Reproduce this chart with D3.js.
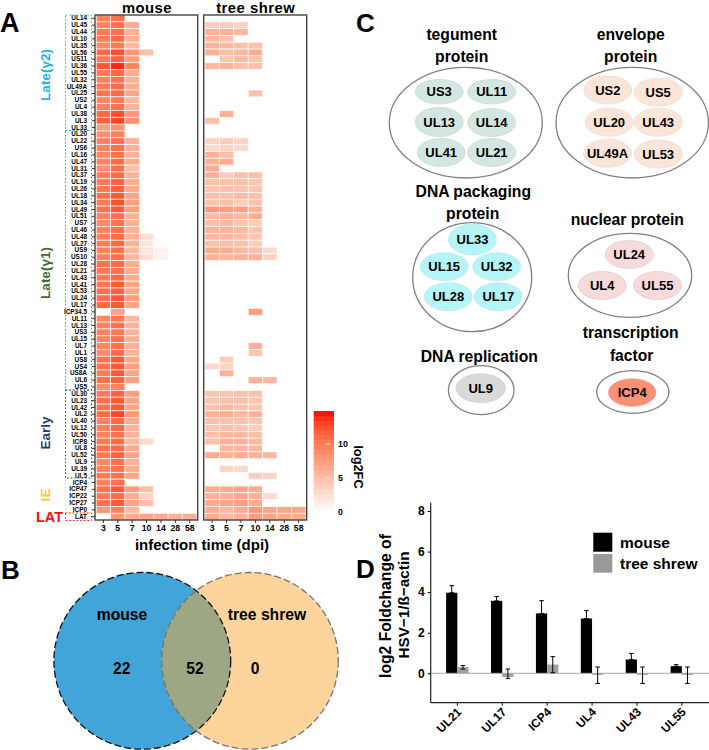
<!DOCTYPE html>
<html>
<head>
<meta charset="utf-8">
<script src="https://cdn.jsdelivr.net/npm/d3@7"></script>
<style>
html, body { margin: 0; padding: 0; background: #fff; }
text { font-family: "Liberation Sans", Arial, sans-serif; font-weight: bold; fill: #000; }
</style>
</head>
<body>
<div id="chart"></div>
<script>
// panel A
var days = ["3", "5", "7", "10", "14", "28", "58"];
var genes = ["UL14", "UL45", "UL44", "UL10", "UL35", "UL56", "US11", "UL36", "UL55", "UL32",
    "UL49A", "UL25", "US2", "UL4", "UL38", "UL3", "UL33", "UL20", "UL22", "US6",
    "UL16", "UL47", "UL31", "UL37", "UL19", "UL26", "UL18", "UL34", "UL49", "UL51",
    "US7", "UL46", "UL48", "UL27", "US9", "US10", "UL28", "UL21", "UL43", "UL41",
    "UL53", "UL24", "UL17", "ICP34.5", "UL11", "UL13", "US3", "UL15", "UL7", "UL1",
    "US8", "US4", "US8A", "UL6", "US5", "UL30", "UL23", "UL42", "UL2", "UL40",
    "UL12", "UL50", "ICP8", "UL8", "UL52", "UL9", "UL39", "UL5", "ICP4", "ICP47",
    "ICP22", "ICP27", "ICP0", "LAT"];

// one row per gene, one entry per day, null or missing = not detected
var mouseFC = [[9.5, 10.5], [9.5, 10.5, 6.5], [10, 10.5, 6], [10, 11, 6], [9, 10, 5.5],
    [11, 12.5, 8, 5], [10, 11.5, 7.5], [12, 14, 9.5], [10, 11, 6.5], [9.5, 10.5, 6],
    [10, 11, 6.5], [10.5, 11, 7], [9, 10, 5.5], [9.5, 10.5, 6], [11, 12.5, 8],
    [11.5, 13, 8.5], [7.5, 8.5], [8.5, 9.5], [9.5, 10.5, 6], [9.5, 10.5, 6],
    [9, 10.5, 6], [9.5, 11, 6.5], [8.5, 10.5, 5], [10, 11, 6], [10, 11.5, 6.5],
    [10, 11.5, 6.5], [10.5, 12, 7], [10, 12.5, 7.5], [10.5, 12, 7.5], [9.5, 10.5, 6],
    [9, 10.5, 6], [9.5, 10.5, 6], [9.5, 11, 6, 2.5], [10, 11, 6, 2], [9.5, 10.5, 5.5, 2, 1],
    [9.5, 10.5, 5.5, 2.5, 1], [10.5, 11, 6.5], [10, 10.5, 6.5], [10, 11, 6.5], [10, 12, 7],
    [10.5, 11.5, 7], [10.5, 12, 7.5], [11, 12, 7], [null, 7], [9, 10, 5.5],
    [9.5, 10.5, 6], [9.5, 10, 6], [9.5, 10.5, 6], [9, 10.5, 6], [9, 11, 6],
    [10.5, 12, 7], [10.5, 12, 7.5], [10, 12, 7], [10.5, 11.5, 7.5], [8.5, 9.5],
    [10, 11.5, 7.5], [10.5, 12, 7], [10.5, 12, 7], [11, 13, 8], [9.5, 11, 6.5],
    [9.5, 11, 6], [9.5, 10.5, 6], [10, 11, 5.5, 3], [10.5, 11, 6.5], [10, 11.5, 7],
    [9, 10.5, 6], [9.5, 10.5, 6.5], [10, 10.5, 7], [9.5, 10.5], [10.5, 12, 7.5, 5],
    [10, 11, 6.5, 3.5], [10.5, 12, 7, 5], [8, 9.5, 5.5], [null, 8, 6.5, 7, 6.5, 6, 6.5]];

var shrewFC = [[], [4, 4, 3.5], [6, 6, 5.5], [5.5, 4.5], [6, 5.5, 5, 5],
    [6, 5, 5.5, 6.5], [null, 4.5, 5.5, 5], [5.5, 6, 5, 5], [], [],
    [], [null, null, null, 5], [], [], [null, 6],
    [5], [], [], [3.5, 4, 3.5], [3, 3.5, 3],
    [6, 5], [6, 6.5], [6.5], [6, 4, 5, 5], [5, 5, 5, 4.5],
    [4.5, 5, 4.5, 4.5], [5, 5, 5.5, 5], [4.5, 5, 4, 5], [8, 7.5, 7.5, 6], [5.5, 6, 5.5, 6.5],
    [5, 5.5, 4.5, 4], [6, 6, 5.5, 4.5], [5.5, 5.5, 5, 4.5], [5, 5, 5, 4], [6.5, 6.5, 5.5, 5, 3],
    [6, 5.5, 6, 6, 3.5], [], [], [], [],
    [], [], [], [null, null, null, 7.5], [],
    [], [], [], [null, null, null, 6], [null, null, null, 4.5],
    [null, 4], [3, 3.5], [null, 6], [null, null, null, 6, 5.5], [],
    [4.5, 4.5, 5, 5], [4.5, 5, 5, 4.5], [5, 5.5, 5, 4.5], [6, 6.5, 5.5, 6], [5, 5, 5, 4.5],
    [4.5, 5, 4.5, 4], [5, 5.5, 5.5, 5], [5, 6, 6, 5.5], [null, 5.5, 5.5, 5.5], [6.5, 6, 6.5, 6, 5.5],
    [], [null, 3.5, 3], [null, null, null, 4, 3.5], [], [6.5, 6.5, 7, 6.5],
    [6, 6, 7, 6, 3], [6.5, 7, 7.5, 6.5], [6.5, 5.5, 6.5, 8, 7, 7, 7], [6.5, 5.5, 6, 7.5, 7, 6.5, 6.5]];

var legendTicks = [0, 5, 10];

// panel B
var vennCounts = ["22", "52", "0"];

// panel C
var tegument = ["US3", "UL11", "UL13", "UL14", "UL41", "UL21"];
var envelope = ["US2", "US5", "UL20", "UL43", "UL49A", "UL53"];
var packaging = ["UL33", "UL15", "UL32", "UL28", "UL17"];
var nuclear = ["UL24", "UL4", "UL55"];

// panel D
var qpcrGenes = ["UL21", "UL17", "ICP4", "UL4", "UL43", "UL55"];
var qpcrSeries = ["mouse", "tree shrew"];
var mouseMean = [3.97, 3.57, 2.95, 2.7, 0.68, 0.35];
var mouseHigh = [4.32, 3.78, 3.58, 3.09, 0.98, 0.43];
var shrewMean = [0.3, -0.18, 0.43, -0.08, -0.08, -0.08];
var shrewLow = [0.21, -0.25, 0.03, -0.5, -0.5, -0.5];
var shrewHigh = [0.38, 0.21, 0.82, 0.31, 0.31, 0.31];

var svg = d3.select("#chart").append("svg")
    .attr("width", 709)
    .attr("height", 750)
    .style("display", "block");

function label(txt, x, y, size, anchor, color) {
    return svg.append("text")
        .attr("x", x)
        .attr("y", y)
        .attr("text-anchor", anchor || "middle")
        .style("font-size", size + "px")
        .style("fill", color || "#000")
        .text(txt);
}

function sideLabel(txt, x, y, size, color, angle) {
    return svg.append("text")
        .attr("transform", "translate(" + x + "," + y + ") rotate(" + angle + ")")
        .attr("text-anchor", "middle")
        .style("font-size", size + "px")
        .style("fill", color || "#000")
        .text(txt);
}

label("A", 0, 32, 27, "start");
label("B", 1, 579, 26, "start");
label("C", 356, 32, 26, "start");
label("D", 356, 578, 26, "start");

/* ---------- A: heatmaps ---------- */
var y = d3.scaleBand().domain(genes).range([14.9, 520.1]);
var fcColor = d3.scaleLinear().domain([0, 14.7]).range(["#ffffff", "#ff0000"]).interpolate(d3.interpolateLab);

function heatmap(values, left, right) {
    var x = d3.scaleBand().domain(days).range([left + 1.2, right - 0.8]);
    var g = svg.append("g");
    values.forEach(function (row, i) {
        row.forEach(function (v, j) {
            if (v === null) return;
            g.append("rect")
                .attr("x", x(days[j]))
                .attr("y", y(genes[i]))
                .attr("width", x.bandwidth())
                .attr("height", y.bandwidth())
                .attr("fill", fcColor(v))
                .attr("stroke", "#fff")
                .attr("stroke-width", 0.7);
        });
    });
    svg.append("rect")
        .attr("x", left)
        .attr("y", 15)
        .attr("width", right - left)
        .attr("height", 505)
        .attr("fill", "none")
        .attr("stroke", "#444")
        .attr("stroke-width", 1.4);
    var ax = svg.append("g")
        .attr("transform", "translate(0,520)")
        .call(d3.axisBottom(x).tickSize(3).tickPadding(2));
    ax.select(".domain").remove();
    ax.selectAll("line").attr("stroke", "#333");
    ax.selectAll("text").style("font-size", "8.7px");
}

heatmap(mouseFC, 95, 197.7);
heatmap(shrewFC, 203.7, 306.7);

var geneAxis = svg.append("g")
    .attr("transform", "translate(95,0)")
    .call(d3.axisLeft(y).tickSize(3).tickPadding(5));
geneAxis.select(".domain").remove();
geneAxis.selectAll("line").attr("stroke", "#333");
geneAxis.selectAll("text").style("font-size", "6.4px");

label("mouse", 147, 13.4, 14.8).style("letter-spacing", "0.5px");
label("tree shrew", 255.7, 13.4, 14.8).style("letter-spacing", "0.5px");
label("infection time (dpi)", 202, 550, 15);

// dotted boxes round the gene classes
function classBox(y0, y1, color) {
    svg.append("rect")
        .attr("x", 65.5)
        .attr("y", y0)
        .attr("width", 26)
        .attr("height", y1 - y0)
        .attr("fill", "none")
        .attr("stroke", color)
        .attr("stroke-width", 1)
        .attr("stroke-dasharray", "1.6,2");
}
classBox(15, 130.5, "#29b8e2");
classBox(130.5, 390, "#3aa083");
classBox(390, 478, "#3c3c8c");
classBox(478, 513, "#f3dc4c");
classBox(513, 520.5, "#f01010");

sideLabel("Late(γ2)", 50, 75, 13.5, "#19b3ee", -90);
sideLabel("Late(γ1)", 50, 273, 13.5, "#41693a", -90);
sideLabel("Early", 50, 433, 13.5, "#1d3a7c", -90);
sideLabel("IE", 50, 495, 13.5, "#fbc531", -90);
label("LAT", 49.5, 522, 14.5, "middle", "#f01010");

// colour bar
var legendY = d3.scaleLinear().domain([0, 5]).range([512, 478]);
var steps = d3.range(0.45, 14.7, 0.72);
svg.selectAll(".step").data(steps).enter().append("rect")
    .attr("class", "step")
    .attr("x", 313.7)
    .attr("width", 20.3)
    .attr("y", function (d) { return legendY(d + 0.72); })
    .attr("height", legendY(0) - legendY(0.72) + 0.3)
    .attr("fill", function (d) { return fcColor(d + 0.36); });
legendTicks.forEach(function (t) {
    if (t > 0) {
        svg.append("line")
            .attr("x1", 325.7).attr("x2", 330)
            .attr("y1", legendY(t)).attr("y2", legendY(t))
            .attr("stroke", "#fff").attr("stroke-opacity", 0.8);
    }
    label(t, 338, legendY(t) + 3.2, 8.8, "start");
});
sideLabel("log2FC", 354, 467, 12.8, "#000", 90);

/* ---------- B: venn ---------- */
var vennLeft = { x: 142.3, y: 660.8, r: 88.4 };
var vennRight = { x: 250, y: 660.8, r: 88.3 };

svg.append("clipPath").attr("id", "clip-left").append("circle")
    .attr("cx", vennLeft.x).attr("cy", vennLeft.y).attr("r", vennLeft.r);

svg.append("circle").attr("cx", vennLeft.x).attr("cy", vennLeft.y).attr("r", vennLeft.r).attr("fill", "#41a5d9");
svg.append("circle").attr("cx", vennRight.x).attr("cy", vennRight.y).attr("r", vennRight.r).attr("fill", "#fdd59c");
svg.append("circle").attr("cx", vennRight.x).attr("cy", vennRight.y).attr("r", vennRight.r)
    .attr("fill", "#9da783").attr("clip-path", "url(#clip-left)");
svg.append("circle").attr("cx", vennLeft.x).attr("cy", vennLeft.y).attr("r", vennLeft.r)
    .attr("fill", "none").attr("stroke", "#111").attr("stroke-width", 1.3).attr("stroke-dasharray", "7,3");
svg.append("circle").attr("cx", vennRight.x).attr("cy", vennRight.y).attr("r", vennRight.r)
    .attr("fill", "none").attr("stroke", "#737373").attr("stroke-width", 1.3).attr("stroke-dasharray", "7,3");

label("mouse", 122, 620, 15.7);
label("tree shrew", 267, 620, 15.7);
label(vennCounts[0], 121.7, 674, 15.6);
label(vennCounts[1], 195, 674, 15.6);
label(vennCounts[2], 255, 674, 15.6);

/* ---------- C: protein groups ---------- */
function outer(cx, cy, rx, ry) {
    svg.append("ellipse")
        .attr("cx", cx).attr("cy", cy).attr("rx", rx).attr("ry", ry)
        .attr("fill", "#fff").attr("stroke", "#808080").attr("stroke-width", 1.3);
}

function oval(txt, cx, cy, rx, ry, fill, stroke) {
    svg.append("ellipse")
        .attr("cx", cx).attr("cy", cy).attr("rx", rx).attr("ry", ry)
        .attr("fill", fill).attr("stroke", stroke).attr("stroke-width", 0.7);
    label(txt, cx, cy + 4.6, 13);
}

label("tegument", 461.7, 40, 15.7);
label("protein", 461.7, 62, 15.7);
outer(465.8, 122.7, 76.5, 55.3);
oval(tegument[0], 439.2, 91.7, 24, 12.3, "#d4e6e1", "#c8d4d0");
oval(tegument[1], 491.7, 91.7, 24, 12.3, "#d4e6e1", "#c8d4d0");
oval(tegument[2], 439.2, 122, 24, 14.5, "#d4e6e1", "#c8d4d0");
oval(tegument[3], 491.7, 122.5, 24, 14, "#d4e6e1", "#c8d4d0");
oval(tegument[4], 441.2, 152.5, 24, 14, "#d4e6e1", "#c8d4d0");
oval(tegument[5], 491.7, 152.5, 24, 14, "#d4e6e1", "#c8d4d0");

label("envelope", 630.7, 40, 15.7);
label("protein", 630.7, 62, 15.7);
outer(632.2, 122.7, 76.2, 55.3);
oval(envelope[0], 607.8, 90, 24, 14, "#fbe5d9", "#e6dad2");
oval(envelope[1], 658.2, 92.2, 24, 14, "#fbe5d9", "#e6dad2");
oval(envelope[2], 609.2, 122.2, 24, 14, "#fbe5d9", "#e6dad2");
oval(envelope[3], 658.2, 122.2, 24, 14, "#fbe5d9", "#e6dad2");
oval(envelope[4], 607.5, 153.3, 24, 14, "#fbe5d9", "#e6dad2");
oval(envelope[5], 658.2, 154, 24, 14, "#fbe5d9", "#e6dad2");

label("DNA packaging", 473.3, 197, 15.7);
label("protein", 472.7, 219, 15.7);
outer(472.2, 277.2, 59.5, 54.5);
oval(packaging[0], 472.5, 239.5, 24, 15.5, "#b4f5f8", "#c4e4e6");
oval(packaging[1], 444.2, 266.7, 24, 14, "#b4f5f8", "#c4e4e6");
oval(packaging[2], 496.7, 266.7, 24, 14, "#b4f5f8", "#c4e4e6");
oval(packaging[3], 448.3, 296.7, 24, 14, "#b4f5f8", "#c4e4e6");
oval(packaging[4], 498.3, 296.7, 24, 14, "#b4f5f8", "#c4e4e6");

label("nuclear protein", 627.3, 225, 15.7);
outer(630, 275.3, 61.7, 42);
oval(nuclear[0], 629.2, 254.5, 24, 14, "#f9dada", "#d8c8cc");
oval(nuclear[1], 602.2, 285.5, 24, 14, "#f9dada", "#d8c8cc");
oval(nuclear[2], 657.5, 285.5, 24, 14, "#f9dada", "#d8c8cc");

label("DNA replication", 479.3, 362.3, 15.7);
outer(481.2, 390.2, 32.8, 24.5);
oval("UL9", 480.7, 388.2, 24.7, 14.5, "#d9d9d9", "#d0d0d0");

label("transcription", 630.7, 338.3, 15.7);
label("factor", 631.7, 360.7, 15.7);
outer(632.8, 392, 36.2, 21.3);
oval("ICP4", 632.2, 392.5, 23.8, 13.8, "#fc8f75", "#e8a594");

/* ---------- D: qPCR bars ---------- */
var barX = d3.scaleBand().domain(qpcrGenes).range([434.9, 704.3]).paddingInner(0.5).paddingOuter(0.25);
var barSub = d3.scaleBand().domain(qpcrSeries).range([0, barX.bandwidth()]);
var barY = d3.scaleLinear().domain([0, 8]).range([673.3, 511]);
var axisBase = 702.7;

function errorBar(px, low, high) {
    svg.append("line")
        .attr("x1", px).attr("x2", px)
        .attr("y1", barY(low)).attr("y2", barY(high))
        .attr("stroke", "#000").attr("stroke-width", 1);
    [low, high].forEach(function (v) {
        svg.append("line")
            .attr("x1", px - 2.3).attr("x2", px + 2.3)
            .attr("y1", barY(v)).attr("y2", barY(v))
            .attr("stroke", "#000").attr("stroke-width", 1);
    });
}

qpcrGenes.forEach(function (gene, i) {
    var x0 = barX(gene);
    var m = mouseMean[i], s = shrewMean[i];
    svg.append("rect")
        .attr("x", x0 + barSub("mouse"))
        .attr("y", barY(Math.max(m, 0)))
        .attr("width", barSub.bandwidth())
        .attr("height", Math.abs(barY(m) - barY(0)))
        .attr("fill", "#000");
    svg.append("rect")
        .attr("x", x0 + barSub("tree shrew"))
        .attr("y", barY(Math.max(s, 0)))
        .attr("width", barSub.bandwidth())
        .attr("height", Math.abs(barY(s) - barY(0)))
        .attr("fill", "#a0a0a0");
});

svg.append("line")
    .attr("x1", 428).attr("x2", 709)
    .attr("y1", barY(0)).attr("y2", barY(0))
    .attr("stroke", "#aaa").attr("stroke-width", 1);

qpcrGenes.forEach(function (gene, i) {
    var x0 = barX(gene);
    errorBar(x0 + barSub("mouse") + barSub.bandwidth() / 2, mouseMean[i], mouseHigh[i]);
    errorBar(x0 + barSub("tree shrew") + barSub.bandwidth() / 2, shrewLow[i], shrewHigh[i]);
});

var yAxis = svg.append("g")
    .attr("transform", "translate(430.7,0)")
    .call(d3.axisLeft(barY).tickValues([0, 2, 4, 6, 8]).tickFormat(d3.format("d")).tickSize(3).tickPadding(3).tickSizeOuter(0));
yAxis.select(".domain").remove();
yAxis.selectAll("text").style("font-size", "12px");

svg.append("line")
    .attr("x1", 430.7).attr("x2", 430.7)
    .attr("y1", 502.7).attr("y2", axisBase)
    .attr("stroke", "#222").attr("stroke-width", 1.2);

var xAxis = svg.append("g")
    .attr("transform", "translate(0," + axisBase + ")")
    .call(d3.axisBottom(barX).tickSize(3).tickSizeOuter(0));
xAxis.select(".domain").remove();
xAxis.selectAll("text")
    .style("font-size", "12px")
    .attr("text-anchor", "end")
    .attr("transform", "translate(2,7) rotate(-45)")
    .attr("dy", "0.35em")
    .attr("y", 0);

svg.append("line")
    .attr("x1", 430.7).attr("x2", 709)
    .attr("y1", axisBase).attr("y2", axisBase)
    .attr("stroke", "#222").attr("stroke-width", 1.2);

sideLabel("log2 Foldchange of", 390.7, 606, 15.7, "#000", -90);
sideLabel("HSV−1/ß−actin", 409, 605, 15.3, "#000", -90);

svg.append("rect").attr("x", 593.3).attr("y", 532.7).attr("width", 19).attr("height", 19).attr("fill", "#000");
svg.append("rect").attr("x", 593.3).attr("y", 554).attr("width", 19).attr("height", 18.7).attr("fill", "#999");
label(qpcrSeries[0], 620, 548.3, 15.5, "start");
label(qpcrSeries[1], 620, 569.3, 15.5, "start");
</script>
</body>
</html>
